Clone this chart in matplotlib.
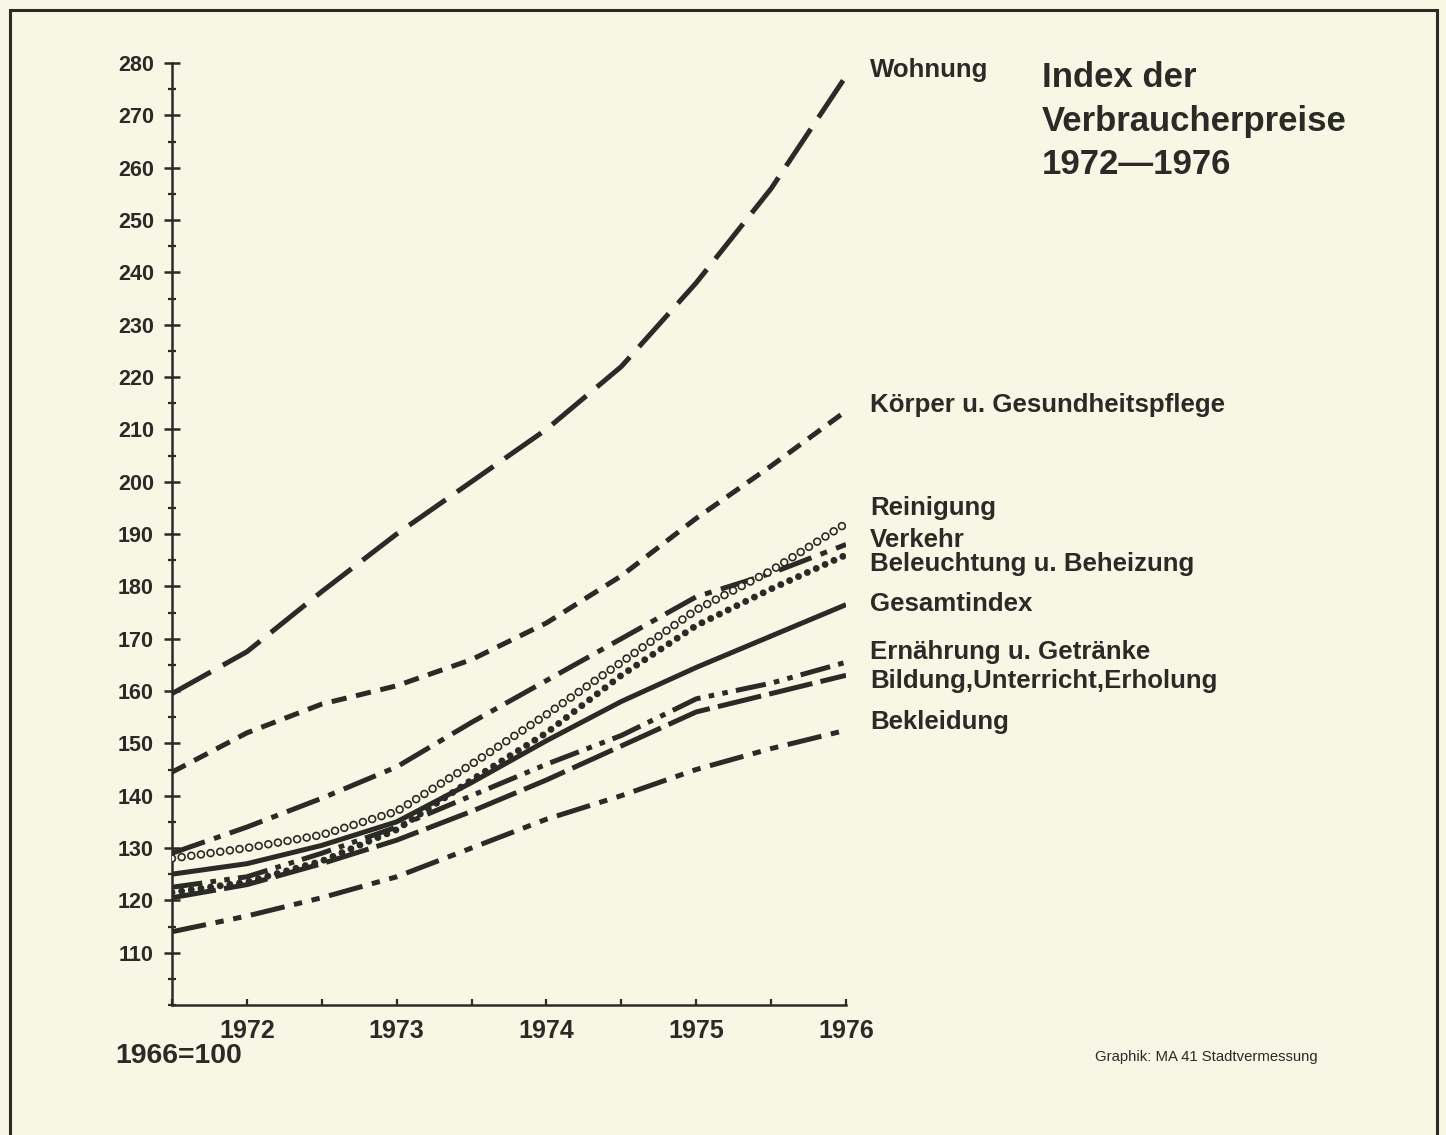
import numpy as np
import matplotlib.pyplot as plt
from matplotlib.patches import Rectangle
from matplotlib.ticker import MultipleLocator

# Index der Verbraucherpreise 1972-1976 (1966 = 100)
# values, half-year steps
years = [1971.5, 1972, 1972.5, 1973, 1973.5, 1974, 1974.5, 1975, 1975.5, 1976]

wohnung     = [159.5, 167.5, 179, 190, 200, 210, 222, 238, 256, 277.5]
koerper     = [144.5, 152, 157.5, 161, 166, 173, 182, 193, 203, 213.5]
verkehr     = [129, 134, 139.5, 145.5, 154, 162, 170, 178, 182.5, 188]
reinigung   = [128, 130, 132.5, 137, 146, 155.5, 165.5, 175.5, 183, 192]
beleuchtung = [121.5, 123.5, 127.5, 133.5, 143, 152, 163, 172.5, 179.5, 186]
gesamt      = [125, 127, 130.5, 135, 142.5, 150.5, 158, 164.5, 170.5, 176.5]
ernaehrung  = [122.5, 124.5, 129, 134, 140, 146, 151.5, 158.5, 161.5, 165.5]
bildung     = [120.5, 123, 127, 131.5, 137, 143, 149.5, 156, 159.5, 163]
bekleidung  = [114, 117, 120.5, 124.5, 130, 135.5, 140, 145, 149, 152.5]

labels = ["Wohnung", "Körper u. Gesundheitspflege", "Reinigung", "Verkehr",
          "Beleuchtung u. Beheizung", "Gesamtindex", "Ernährung u. Getränke",
          "Bildung,Unterricht,Erholung", "Bekleidung"]
# vertical pixel position of each label (from top of picture)
label_y = [70, 405, 508, 540, 564, 604, 652, 681, 722]

BG = "#f8f7e6"
INK = "#2a2a26"
W, H = 1446, 1135

plt.rcParams['font.family'] = ['Liberation Sans', 'DejaVu Sans']
plt.rcParams['lines.scale_dashes'] = False

fig = plt.figure(figsize=(W / 100, H / 100), dpi=100)
fig.patch.set_facecolor(BG)

ax = fig.add_axes([172 / W, 1 - 1005 / H, (846 - 172) / W, (1005 - 63) / H])
ax.set_facecolor(BG)
ax.patch.set_alpha(0)

lw = 3.6
kw = dict(color=INK, lw=lw, solid_capstyle='butt', dash_capstyle='butt')

ax.plot(years, wohnung, ls=(0, (32, 10)), **kw)
ax.plot(years, koerper, ls=(0, (11, 7)), **kw)
ax.plot(years, verkehr, ls=(0, (25, 7, 5, 7)), **kw)
ax.plot(years, gesamt, ls='-', **kw)
ax.plot(years, ernaehrung, ls=(0, (22, 6, 4, 6, 4, 6)), **kw)
ax.plot(years, bildung, ls=(0, (32, 6)), **kw)
ax.plot(years, bekleidung, ls=(0, (25, 7, 6, 7, 6, 7)), **kw)

# filled dots
ax.plot(years, beleuchtung, color=INK, lw=5, ls=(0, (0.01, 7)),
        dash_capstyle='round', zorder=3)
# open circles: big dark dots with smaller background dots on top
ax.plot(years, reinigung, color=INK, lw=6.2, ls=(0, (0.01, 7)),
        dash_capstyle='round', zorder=4)
ax.plot(years, reinigung, color=BG, lw=3.8, ls=(0, (0.01, 7)),
        dash_capstyle='round', zorder=5)

ax.set_xlim(1971.5, 1976)
ax.set_ylim(100, 280)

ax.spines['top'].set_visible(False)
ax.spines['right'].set_visible(False)
for s in ['left', 'bottom']:
    ax.spines[s].set_linewidth(1.8)
    ax.spines[s].set_color(INK)

ax.set_yticks(np.arange(110, 281, 10))
ax.yaxis.set_minor_locator(MultipleLocator(5))
ax.set_xticks([1972, 1973, 1974, 1975, 1976])
ax.xaxis.set_minor_locator(MultipleLocator(0.5))

ax.tick_params(axis='y', which='major', direction='inout', length=12, width=1.8,
               color=INK, labelsize=15.5, pad=7, labelcolor=INK)
ax.tick_params(axis='y', which='minor', direction='inout', length=6, width=1.6,
               color=INK)
ax.tick_params(axis='x', which='both', direction='in', length=4, width=1.6,
               color=INK, labelsize=18, pad=10, labelcolor=INK)
for t in ax.get_xticklabels() + ax.get_yticklabels():
    t.set_fontweight('bold')

# series labels on the right
for txt, yp in zip(labels, label_y):
    fig.text(870 / W, 1 - yp / H, txt, fontsize=18.6, fontweight='bold',
             color=INK, va='center', ha='left')

fig.text(1042 / W, 1 - 121 / H, "Index der\nVerbraucherpreise\n1972—1976",
         fontsize=25, fontweight='bold', color=INK, va='center', ha='left',
         linespacing=1.42)

fig.text(115 / W, 1 - 1056 / H, "1966=100", fontsize=20.5, fontweight='bold',
         color=INK, va='center', ha='left')
fig.text(1318 / W, 1 - 1057 / H, "Graphik: MA 41 Stadtvermessung", fontsize=10.7,
         color=INK, va='center', ha='right')

# frame round the whole graphic
fig.patches.append(Rectangle((10 / W, -0.05), (1437 - 10) / W, 1 - 10 / H + 0.05,
                             transform=fig.transFigure, fill=False,
                             edgecolor=INK, lw=2.2))

fig.savefig("out.png", dpi=100, facecolor=BG)
